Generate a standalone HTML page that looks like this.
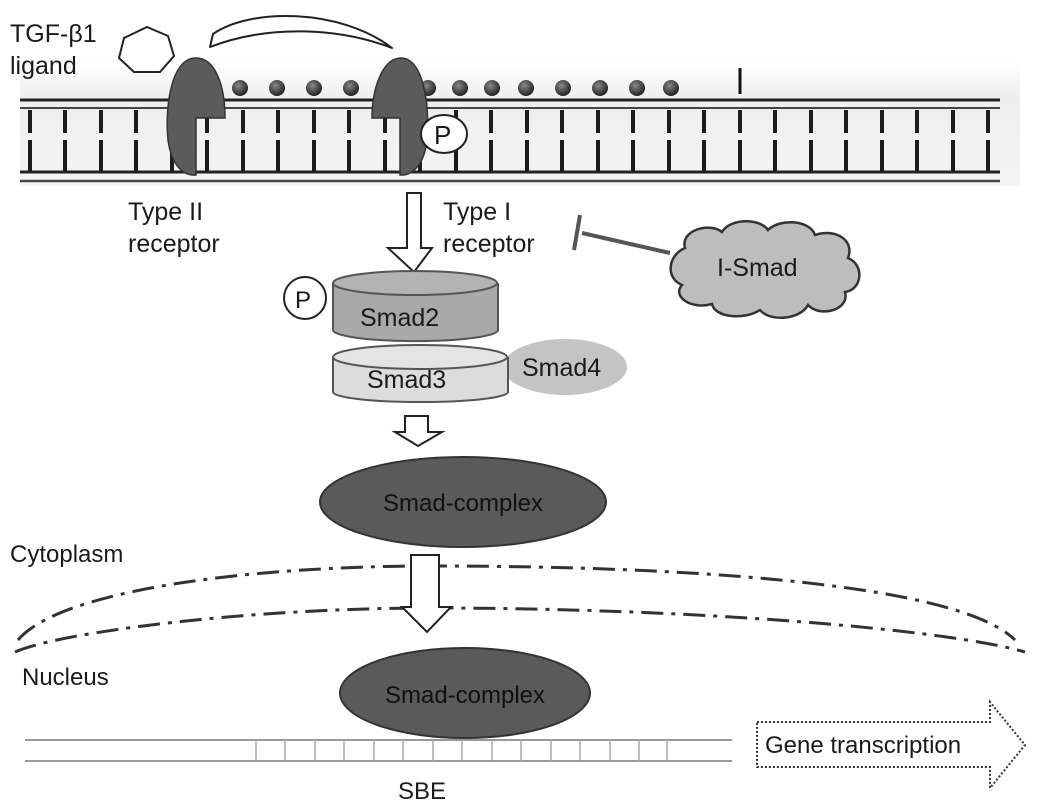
<!DOCTYPE html>
<html><head><meta charset="utf-8"><style>
html,body{margin:0;padding:0;background:#fff;}
svg{display:block;}
text{font-family:"Liberation Sans",sans-serif;fill:#1a1a1a;}
</style></head><body>
<svg width="1039" height="809" viewBox="0 0 1039 809" xmlns="http://www.w3.org/2000/svg">
<defs>
<linearGradient id="mem" x1="0" y1="0" x2="0" y2="1">
<stop offset="0" stop-color="#fff"/><stop offset="0.3" stop-color="#eeeeee"/><stop offset="1" stop-color="#f4f4f4"/>
</linearGradient>
<radialGradient id="bead" cx="0.4" cy="0.35" r="0.7">
<stop offset="0" stop-color="#888"/><stop offset="1" stop-color="#1a1a1a"/>
</radialGradient>
</defs>
<rect x="20" y="62" width="1000" height="124" fill="url(#mem)"/>
<line x1="20" y1="100" x2="1000" y2="100" stroke="#222" stroke-width="3"/>
<line x1="20" y1="108" x2="1000" y2="108" stroke="#444" stroke-width="2"/>
<line x1="20" y1="172" x2="1000" y2="172" stroke="#222" stroke-width="3"/>
<line x1="20" y1="181" x2="1000" y2="181" stroke="#444" stroke-width="2.5"/>
<g stroke="#1c1c1c" stroke-width="4" fill="#1c1c1c">
<path d="M30 110V133M30 140V171M65 110V133M65 140V171M101 110V133M101 140V171M136 110V133M136 140V171M172 110V133M172 140V171M207 110V133M207 140V171M243 110V133M243 140V171M278 110V133M278 140V171M314 110V133M314 140V171M349 110V133M349 140V171M385 110V133M385 140V171M420 110V133M420 140V171M456 110V133M456 140V171M491 110V133M491 140V171M527 110V133M527 140V171M562 110V133M562 140V171M598 110V133M598 140V171M633 110V133M633 140V171M669 110V133M669 140V171M704 110V133M704 140V171M740 110V133M740 140V171M775 110V133M775 140V171M811 110V133M811 140V171M846 110V133M846 140V171M882 110V133M882 140V171M917 110V133M917 140V171M953 110V133M953 140V171M988 110V133M988 140V171"/>
</g>
<line x1="740" y1="68" x2="740" y2="94" stroke="#111" stroke-width="3"/>
<g fill="url(#bead)">
<circle cx="240" cy="88" r="8"/><circle cx="277" cy="88" r="8"/><circle cx="314" cy="88" r="8"/><circle cx="351" cy="88" r="8"/>
<circle cx="428" cy="88" r="8"/><circle cx="460" cy="88" r="8"/><circle cx="492" cy="88" r="8"/><circle cx="526" cy="88" r="8"/>
<circle cx="563" cy="88" r="8"/><circle cx="600" cy="88" r="8"/><circle cx="637" cy="88" r="8"/><circle cx="671" cy="88" r="8"/>
</g>
<path d="M196 58 C170 58 165 110 168 140 C172 168 185 176 196 175 L196 118 L225 118 C225 85 215 58 196 58Z" fill="#5b5b5b" stroke="#333" stroke-width="1.5"/>
<path d="M401 58 C382 58 372 90 372 118 L400 118 L400 175 C415 176 425 160 427 140 C430 100 422 58 401 58Z" fill="#5b5b5b" stroke="#333" stroke-width="1.5"/>
<ellipse cx="444" cy="134" rx="23" ry="19" fill="#fff" stroke="#222" stroke-width="2"/>
<text x="434" y="144" font-size="26">P</text>
<!-- crescent arrow -->
<path d="M210 47 L213 34 C250 8 340 8 392 48 C340 28 270 24 210 47 Z" fill="#fff" stroke="#222" stroke-width="2" stroke-linejoin="round"/>
<polygon points="147,27 168,36 174,56 160,72 134,72 119,58 124,38" fill="#fff" stroke="#222" stroke-width="2"/>
<text x="10" y="42" font-size="25">TGF-β1</text>
<text x="10" y="74" font-size="25">ligand</text>
<text x="128" y="220" font-size="25">Type II</text>
<text x="128" y="252" font-size="25">receptor</text>
<text x="443" y="220" font-size="25">Type I</text>
<text x="443" y="252" font-size="25">receptor</text>
<path d="M407 193 H421 V248 H432 L414 272 L388 248 H407 Z" fill="#fff" stroke="#222" stroke-width="2"/>
<line x1="582" y1="233" x2="670" y2="253" stroke="#555" stroke-width="4"/>
<line x1="580" y1="215" x2="574" y2="250" stroke="#555" stroke-width="4"/>
<path d="M685 248 C680 230 710 222 722 232 C730 218 760 218 768 230 C780 218 810 220 815 235 C835 228 855 240 848 258 C865 265 862 290 845 292 C850 310 820 318 808 305 C800 320 770 322 760 310 C745 320 715 318 712 304 C690 310 672 296 682 285 C665 278 668 255 685 248Z" fill="#bdbdbd" stroke="#333" stroke-width="2.5"/>
<text x="717" y="276" font-size="25">I-Smad</text>
<ellipse cx="565" cy="367" rx="62" ry="28" fill="#c4c4c4"/>
<path d="M333 357 V392 A87 10 0 0 0 508 392 V357" fill="#dcdcdc" stroke="#555" stroke-width="2"/>
<ellipse cx="420" cy="357" rx="87" ry="12" fill="#e4e4e4" stroke="#555" stroke-width="2"/>
<text x="522" y="376" font-size="25">Smad4</text>
<text x="367" y="388" font-size="25">Smad3</text>
<path d="M333 283 V330 A82 11 0 0 0 498 330 V283" fill="#a9a9a9" stroke="#555" stroke-width="2"/>
<ellipse cx="415" cy="283" rx="82" ry="12" fill="#b3b3b3" stroke="#555" stroke-width="2"/>
<text x="360" y="326" font-size="25">Smad2</text>
<circle cx="305" cy="298" r="21" fill="#fff" stroke="#222" stroke-width="2"/>
<text x="295" y="308" font-size="24">P</text>
<path d="M405 416 H428 V432 H442 L418 446 L395 432 H405 Z" fill="#fff" stroke="#222" stroke-width="2"/>
<ellipse cx="463" cy="502" rx="143" ry="45" fill="#5a5a5a" stroke="#333" stroke-width="2"/>
<text x="463" y="511" font-size="24" text-anchor="middle" style="fill:#111">Smad-complex</text>
<text x="10" y="562" font-size="24">Cytoplasm</text>
<path d="M18 640 C60 590 250 566 430 566 C700 566 960 585 1015 640" fill="none" stroke="#333" stroke-width="3" stroke-dasharray="22 8 4 8"/>
<path d="M15 652 C60 632 250 608 430 608 C700 608 950 630 1025 652" fill="none" stroke="#333" stroke-width="3" stroke-dasharray="22 8 4 8"/>
<path d="M411 555 H439 V607 H451 L427 632 L402 607 H411 Z" fill="#fff" stroke="#222" stroke-width="2"/>
<text x="22" y="685" font-size="24">Nucleus</text>
<ellipse cx="465" cy="693" rx="125" ry="45" fill="#5a5a5a" stroke="#333" stroke-width="2"/>
<text x="465" y="703" font-size="24" text-anchor="middle" style="fill:#111">Smad-complex</text>
<line x1="25" y1="740" x2="732" y2="740" stroke="#999" stroke-width="2"/>
<line x1="25" y1="761" x2="732" y2="761" stroke="#999" stroke-width="2"/>
<path d="M256 740V761M285 740V761M315 740V761M344 740V761M374 740V761M403 740V761M433 740V761M462 740V761M492 740V761M521 740V761M551 740V761M580 740V761M610 740V761M639 740V761M667 740V761" stroke="#aaa" stroke-width="1.5"/>
<text x="398" y="799" font-size="24">SBE</text>
<path d="M757 722 H990 V702 L1025 745 L990 788 V767 H757 Z" fill="#fff" stroke="#333" stroke-width="2" stroke-dasharray="2 2"/>
<text x="765" y="753" font-size="24">Gene transcription</text>
</svg>
</body></html>
